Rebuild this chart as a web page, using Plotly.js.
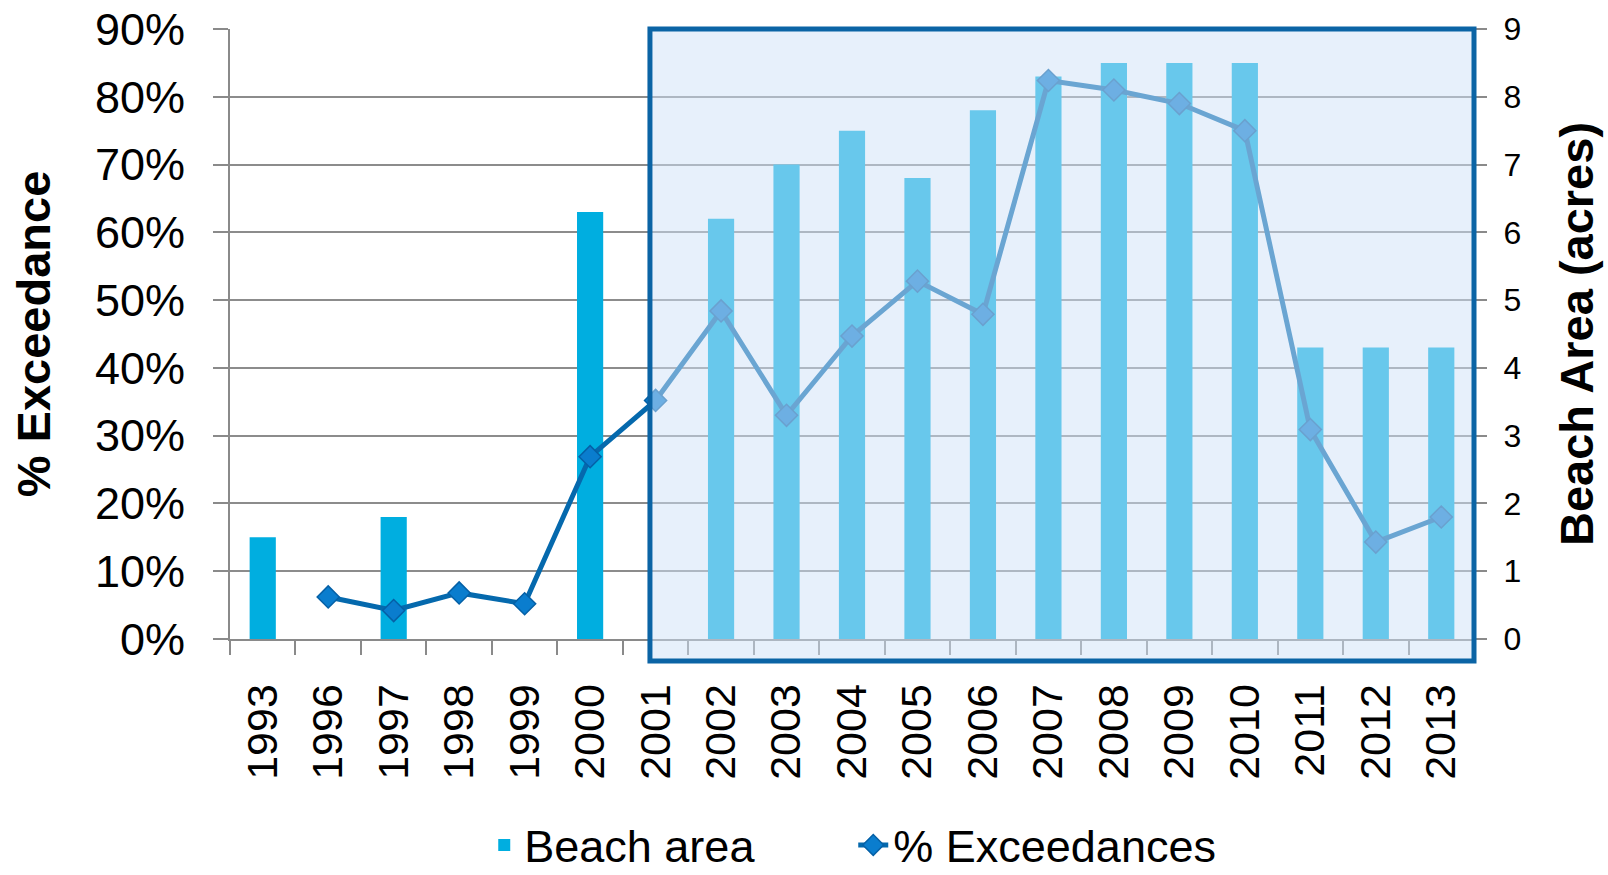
<!DOCTYPE html>
<html>
<head>
<meta charset="utf-8">
<script src="https://cdn.plot.ly/plotly-3.0.1.min.js"></script>
<style>html,body{margin:0;padding:0;background:#fff;}#chart{width:1608px;height:875px;}</style>
</head>
<body>
<div id="chart"></div>
<script>
// ---- Data ----
const years = ['1993','1996','1997','1998','1999','2000','2001','2002','2003','2004','2005','2006','2007','2008','2009','2010','2011','2012','2013'];
const beachArea = [1.5, null, 1.8, null, null, 6.3, null, 6.2, 7.0, 7.5, 6.8, 7.8, 8.3, 8.5, 8.5, 8.5, 4.3, 4.3, 4.3];
const exceedances = [null, 0.062, 0.042, 0.068, 0.052, 0.269, 0.352, 0.484, 0.330, 0.447, 0.528, 0.479, 0.824, 0.810, 0.790, 0.750, 0.309, 0.143, 0.180];
const highlightFrom = '2001';
const highlightTo = '2013';

const FONT = 'Liberation Sans, Arial, sans-serif';
const nCat = years.length;
const i0 = years.indexOf(highlightFrom);
const i1 = years.indexOf(highlightTo);

const traces = [
  {
    type: 'bar', name: 'Beach area', x: years, y: beachArea, yaxis: 'y',
    marker: {color: '#00AEE0'}, width: 0.4
  },
  {
    type: 'scatter', mode: 'lines+markers', name: '% Exceedances', x: years, y: exceedances,
    yaxis: 'y2', connectgaps: true,
    line: {color: '#0569AD', width: 5},
    marker: {symbol: 'diamond', size: 17, color: '#0A7DCE', line: {color: '#0560A6', width: 1.5}}
  }
];

const layout = {
  width: 1608, height: 875,
  margin: {l: 230, r: 134, t: 29, b: 236, autoexpand: false},
  paper_bgcolor: '#ffffff', plot_bgcolor: '#ffffff',
  font: {family: FONT, color: '#000'},
  showlegend: true,
  bargap: 0.6,
  legend: {
    orientation: 'h', x: 0.501, xanchor: 'center', y: -0.338, yanchor: 'middle',
    font: {size: 45, family: FONT, color: '#000'}, itemwidth: 30, entrywidth: 324
  },
  xaxis: {
    type: 'category', range: [-0.5, nCat - 0.5], automargin: false,
    tickangle: -90, tickfont: {size: 43, family: FONT, color: '#000'},
    ticks: 'outside', tickson: 'boundaries', ticklen: 14, tickwidth: 2, tickcolor: '#8a8a8a',
    ticklabelstandoff: 26,
    showline: true, linecolor: '#8a8a8a', linewidth: 2,
    showgrid: false, fixedrange: true
  },
  yaxis: {
    side: 'right', range: [0, 9], dtick: 1, tick0: 0, automargin: false,
    tickfont: {size: 32, family: FONT, color: '#000'},
    ticks: 'outside', ticklen: 12, tickwidth: 2, tickcolor: '#8a8a8a',
    ticklabelstandoff: 10,
    showgrid: true, gridcolor: '#8c8c8c', gridwidth: 2,
    showline: false, zeroline: false,
    title: {text: 'Beach Area (acres)', font: {size: 47, family: FONT, color: '#000', weight: 'bold'}, standoff: 39}
  },
  yaxis2: {
    overlaying: 'y', side: 'left', range: [0, 0.9], dtick: 0.1, tick0: 0, tickformat: '.0%', automargin: false,
    tickfont: {size: 45, family: FONT, color: '#000'},
    ticks: 'outside', ticklen: 15, tickwidth: 2, tickcolor: '#8a8a8a',
    ticklabelstandoff: 19,
    showgrid: false, zeroline: false,
    showline: true, linecolor: '#8a8a8a', linewidth: 2,
    title: {text: '% Exceedance', font: {size: 47, family: FONT, color: '#000', weight: 'bold'}, standoff: 29}
  },
  shapes: [
    {
      type: 'rect', layer: 'above', xref: 'paper', yref: 'paper',
      x0: (i0 - 0.086 + 0.5) / nCat, x1: (i1 + 1) / nCat,
      y0: -0.036, y1: 1,
      fillcolor: 'rgba(208,226,247,0.5)',
      line: {color: '#0B64A5', width: 5}
    }
  ]
};

Plotly.newPlot('chart', traces, layout, {staticPlot: true, displayModeBar: false});
</script>
</body>
</html>
